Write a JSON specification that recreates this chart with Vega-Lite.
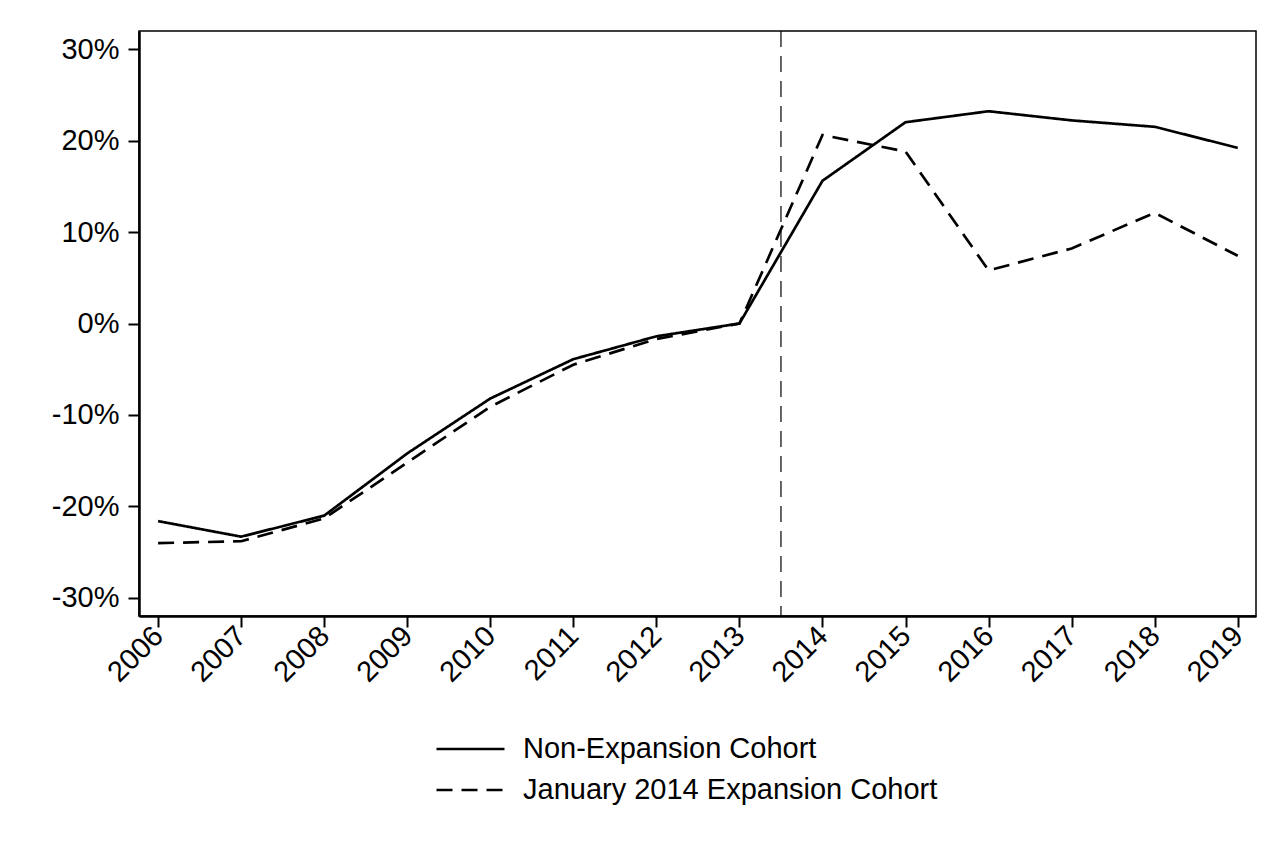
{
  "$schema": "https://vega.github.io/schema/vega-lite/v6.json",
  "autosize": "none",
  "width": 1117,
  "height": 585,
  "padding": {"left": 139, "top": 31, "right": 31, "bottom": 242},
  "background": "white",
  "config": {
    "font": "Liberation Sans",
    "view": {"stroke": "black", "strokeWidth": 1.5},
    "axis": {
      "domainColor": "black", "domainWidth": 2.5,
      "tickColor": "black", "tickWidth": 2, "tickSize": 11,
      "labelColor": "black", "labelFontSize": 29, "labelFont": "Liberation Sans",
      "grid": false, "title": null
    }
  },
  "datasets": {
    "series": [
      {"year": 2006, "value": -0.216, "cohort": "Non-Expansion Cohort"},
      {"year": 2007, "value": -0.233, "cohort": "Non-Expansion Cohort"},
      {"year": 2008, "value": -0.210, "cohort": "Non-Expansion Cohort"},
      {"year": 2009, "value": -0.142, "cohort": "Non-Expansion Cohort"},
      {"year": 2010, "value": -0.082, "cohort": "Non-Expansion Cohort"},
      {"year": 2011, "value": -0.039, "cohort": "Non-Expansion Cohort"},
      {"year": 2012, "value": -0.014, "cohort": "Non-Expansion Cohort"},
      {"year": 2013, "value": 0.0, "cohort": "Non-Expansion Cohort"},
      {"year": 2014, "value": 0.156, "cohort": "Non-Expansion Cohort"},
      {"year": 2015, "value": 0.220, "cohort": "Non-Expansion Cohort"},
      {"year": 2016, "value": 0.232, "cohort": "Non-Expansion Cohort"},
      {"year": 2017, "value": 0.222, "cohort": "Non-Expansion Cohort"},
      {"year": 2018, "value": 0.215, "cohort": "Non-Expansion Cohort"},
      {"year": 2019, "value": 0.192, "cohort": "Non-Expansion Cohort"},
      {"year": 2006, "value": -0.240, "cohort": "January 2014 Expansion Cohort"},
      {"year": 2007, "value": -0.238, "cohort": "January 2014 Expansion Cohort"},
      {"year": 2008, "value": -0.213, "cohort": "January 2014 Expansion Cohort"},
      {"year": 2009, "value": -0.152, "cohort": "January 2014 Expansion Cohort"},
      {"year": 2010, "value": -0.091, "cohort": "January 2014 Expansion Cohort"},
      {"year": 2011, "value": -0.045, "cohort": "January 2014 Expansion Cohort"},
      {"year": 2012, "value": -0.017, "cohort": "January 2014 Expansion Cohort"},
      {"year": 2013, "value": 0.0, "cohort": "January 2014 Expansion Cohort"},
      {"year": 2014, "value": 0.206, "cohort": "January 2014 Expansion Cohort"},
      {"year": 2015, "value": 0.188, "cohort": "January 2014 Expansion Cohort"},
      {"year": 2016, "value": 0.058, "cohort": "January 2014 Expansion Cohort"},
      {"year": 2017, "value": 0.082, "cohort": "January 2014 Expansion Cohort"},
      {"year": 2018, "value": 0.121, "cohort": "January 2014 Expansion Cohort"},
      {"year": 2019, "value": 0.074, "cohort": "January 2014 Expansion Cohort"}
    ],
    "event": [{"year": 2013.5}]
  },
  "layer": [
    {
      "data": {"name": "event"},
      "mark": {"type": "rule", "color": "black", "strokeWidth": 1.2, "strokeDash": [16, 9]},
      "encoding": {
        "x": {"field": "year", "type": "quantitative"}
      }
    },
    {
      "data": {"name": "series"},
      "mark": {"type": "line", "color": "black", "strokeWidth": 2.7},
      "encoding": {
        "x": {
          "field": "year", "type": "quantitative",
          "scale": {"domain": [2005.77, 2019.22], "nice": false, "zero": false},
          "axis": {
            "values": [2006, 2007, 2008, 2009, 2010, 2011, 2012, 2013, 2014, 2015, 2016, 2017, 2018, 2019],
            "format": "d", "labelAngle": -45, "labelAlign": "right", "labelBaseline": "middle",
            "labelPadding": 4, "labelFlush": false, "labelOverlap": false
          }
        },
        "y": {
          "field": "value", "type": "quantitative",
          "scale": {"domain": [-0.3197, 0.3197], "nice": false, "zero": false},
          "axis": {
            "values": [-0.3, -0.2, -0.1, 0, 0.1, 0.2, 0.3],
            "labelExpr": "round(datum.value * 100) + '%'",
            "labelPadding": 9
          }
        },
        "strokeDash": {
          "field": "cohort", "type": "nominal",
          "scale": {
            "domain": ["Non-Expansion Cohort", "January 2014 Expansion Cohort"],
            "range": [[1, 0], [16, 9]]
          },
          "legend": {
            "title": null, "orient": "none", "legendX": 296, "legendY": 703,
            "direction": "vertical",
            "symbolType": "stroke", "symbolSize": 4624, "symbolStrokeWidth": 2.5,
            "symbolStrokeColor": "black",
            "labelFontSize": 29, "labelFont": "Liberation Sans", "labelColor": "black",
            "labelLimit": 0, "labelOffset": 17, "clipHeight": 30, "rowPadding": 11
          }
        }
      }
    }
  ]
}
